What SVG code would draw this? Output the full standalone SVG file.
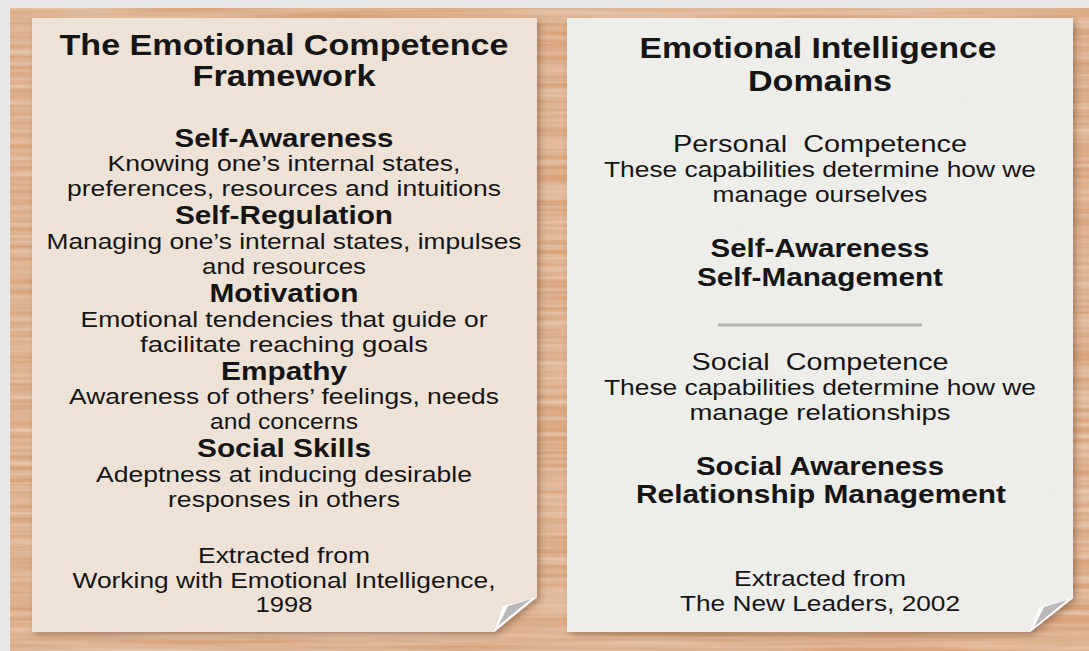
<svg xmlns="http://www.w3.org/2000/svg" width="1089" height="651" viewBox="0 0 1089 651">
  <defs>
    <style>
      .t { font-family: "Liberation Sans", Arial, sans-serif; text-anchor: middle; fill: #151515; }
      .h { font-size: 30px; font-weight: bold; }
      .b { font-size: 25px; font-weight: bold; }
      .n { font-size: 22px; }
      .p { font-size: 24px; }
    </style>
    <filter id="woodf" x="0" y="0" width="100%" height="100%">
      <feTurbulence type="fractalNoise" baseFrequency="0.004 0.18" numOctaves="3" seed="7" result="n"/>
      <feColorMatrix in="n" type="matrix" values="0 0 0 0 0.93  0 0 0 0 0.78  0 0 0 0 0.64  0 0 0 0.9 -0.25" result="c"/>
      <feComposite in="c" in2="SourceGraphic" operator="in" result="m"/>
      <feMerge><feMergeNode in="SourceGraphic"/><feMergeNode in="m"/></feMerge>
    </filter>
    <filter id="sh" x="-5%" y="-5%" width="110%" height="110%">
      <feDropShadow dx="3" dy="3" stdDeviation="3" flood-color="#5a3a20" flood-opacity="0.4"/>
    </filter>
    <filter id="paper" x="0" y="0" width="100%" height="100%">
      <feTurbulence type="fractalNoise" baseFrequency="0.9" numOctaves="2" seed="3" result="n"/>
      <feColorMatrix in="n" type="matrix" values="0 0 0 0 0.55  0 0 0 0 0.5  0 0 0 0 0.45  0 0 0 0.16 0" result="c"/>
      <feComposite in="c" in2="SourceGraphic" operator="in" result="m"/>
      <feMerge><feMergeNode in="SourceGraphic"/><feMergeNode in="m"/></feMerge>
    </filter>
  </defs>

  <!-- background -->
  <rect width="1089" height="651" fill="#e8e8e8"/>
  <rect x="10" y="8" width="1079" height="643" fill="#d8a47c" filter="url(#woodf)"/>

  <!-- left card -->
  <g id="card-left">
    <path d="M32,18 H537 V597 L494,632 H32 Z" fill="#f2e5da" filter="url(#sh)"/>
    <path d="M32,18 H537 V597 L494,632 H32 Z" fill="#f2e5da" filter="url(#paper)"/>
    <path d="M537,597 L494,632 L503,606 Z" fill="#ffffff"/>
    <path d="M531,599 L508,606 L498,626 Z" fill="#b9b9b9"/>
    <text class="t h" x="284" y="55" textLength="449" lengthAdjust="spacingAndGlyphs">The Emotional Competence</text>
    <text class="t h" x="284" y="86" textLength="183" lengthAdjust="spacingAndGlyphs">Framework</text>
    <text class="t b" x="284" y="147" textLength="219" lengthAdjust="spacingAndGlyphs">Self-Awareness</text>
    <text class="t n" x="284" y="171" textLength="353" lengthAdjust="spacingAndGlyphs">Knowing one’s internal states,</text>
    <text class="t n" x="284" y="196" textLength="434" lengthAdjust="spacingAndGlyphs">preferences, resources and intuitions</text>
    <text class="t b" x="284" y="224" textLength="218" lengthAdjust="spacingAndGlyphs">Self-Regulation</text>
    <text class="t n" x="284" y="249" textLength="475" lengthAdjust="spacingAndGlyphs">Managing one’s internal states, impulses</text>
    <text class="t n" x="284" y="274" textLength="164" lengthAdjust="spacingAndGlyphs">and resources</text>
    <text class="t b" x="284" y="302" textLength="149" lengthAdjust="spacingAndGlyphs">Motivation</text>
    <text class="t n" x="284" y="327" textLength="407" lengthAdjust="spacingAndGlyphs">Emotional tendencies that guide or</text>
    <text class="t n" x="284" y="352" textLength="288" lengthAdjust="spacingAndGlyphs">facilitate reaching goals</text>
    <text class="t b" x="284" y="380" textLength="126" lengthAdjust="spacingAndGlyphs">Empathy</text>
    <text class="t n" x="284" y="404" textLength="430" lengthAdjust="spacingAndGlyphs">Awareness of others’ feelings, needs</text>
    <text class="t n" x="284" y="429" textLength="148" lengthAdjust="spacingAndGlyphs">and concerns</text>
    <text class="t b" x="284" y="457" textLength="174" lengthAdjust="spacingAndGlyphs">Social Skills</text>
    <text class="t n" x="284" y="482" textLength="376" lengthAdjust="spacingAndGlyphs">Adeptness at inducing desirable</text>
    <text class="t n" x="284" y="507" textLength="232" lengthAdjust="spacingAndGlyphs">responses in others</text>
    <text class="t n" x="284" y="563" textLength="172" lengthAdjust="spacingAndGlyphs">Extracted from</text>
    <text class="t n" x="284" y="588" textLength="423" lengthAdjust="spacingAndGlyphs">Working with Emotional Intelligence,</text>
    <text class="t n" x="284" y="612" textLength="57" lengthAdjust="spacingAndGlyphs">1998</text>
  </g>

  <!-- right card -->
  <g id="card-right">
    <path d="M567,18 H1073 V598 L1030,632 H567 Z" fill="#f1f1ee" filter="url(#sh)"/>
    <path d="M567,18 H1073 V598 L1030,632 H567 Z" fill="#f1f1ee" filter="url(#paper)"/>
    <path d="M1073,598 L1030,632 L1039,607 Z" fill="#ffffff"/>
    <path d="M1067,600 L1044,607 L1034,627 Z" fill="#b9b9b9"/>
    <text class="t h" x="818" y="58" textLength="357" lengthAdjust="spacingAndGlyphs">Emotional Intelligence</text>
    <text class="t h" x="820" y="91" textLength="144" lengthAdjust="spacingAndGlyphs">Domains</text>
    <text class="t p" x="820" y="152" textLength="294" lengthAdjust="spacingAndGlyphs" xml:space="preserve">Personal  Competence</text>
    <text class="t n" x="820" y="177" textLength="432" lengthAdjust="spacingAndGlyphs">These capabilities determine how we</text>
    <text class="t n" x="820" y="202" textLength="215" lengthAdjust="spacingAndGlyphs">manage ourselves</text>
    <text class="t b" x="820" y="257" textLength="219" lengthAdjust="spacingAndGlyphs">Self-Awareness</text>
    <text class="t b" x="820" y="286" textLength="246" lengthAdjust="spacingAndGlyphs">Self-Management</text>
    <line x1="718" y1="325" x2="922" y2="325" stroke="#b4b4b4" stroke-width="3"/>
    <text class="t p" x="820" y="370" textLength="257" lengthAdjust="spacingAndGlyphs" xml:space="preserve">Social  Competence</text>
    <text class="t n" x="820" y="395" textLength="432" lengthAdjust="spacingAndGlyphs">These capabilities determine how we</text>
    <text class="t n" x="820" y="420" textLength="261" lengthAdjust="spacingAndGlyphs">manage relationships</text>
    <text class="t b" x="820" y="475" textLength="248" lengthAdjust="spacingAndGlyphs">Social Awareness</text>
    <text class="t b" x="821" y="503" textLength="370" lengthAdjust="spacingAndGlyphs">Relationship Management</text>
    <text class="t n" x="820" y="586" textLength="172" lengthAdjust="spacingAndGlyphs">Extracted from</text>
    <text class="t n" x="820" y="611" textLength="280" lengthAdjust="spacingAndGlyphs">The New Leaders, 2002</text>
  </g>
</svg>
